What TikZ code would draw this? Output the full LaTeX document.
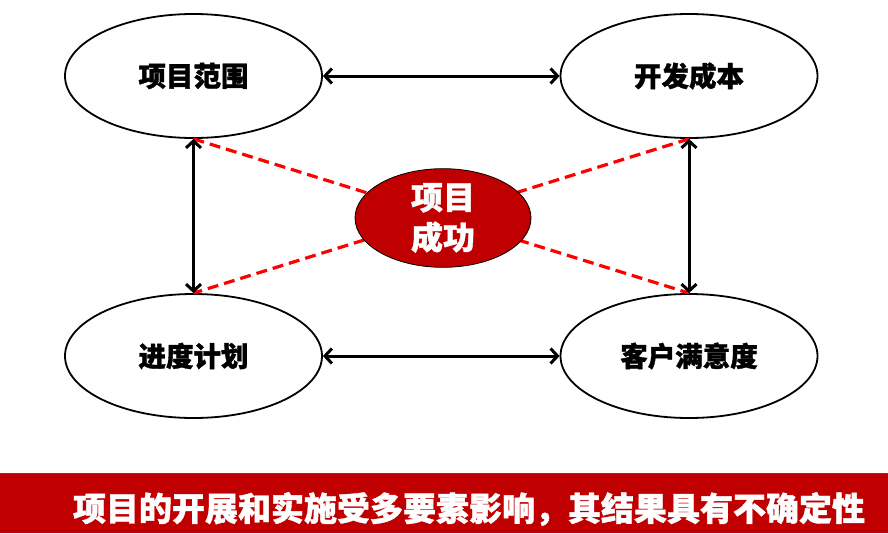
\documentclass[tikz,border=0pt]{standalone}
\usepackage{fontspec}
\newfontfamily\cjk{Noto Sans CJK SC}[BoldFeatures={FakeBold=1.2}]
\usetikzlibrary{arrows.meta,shapes.geometric}
\definecolor{barred}{HTML}{C00000}

\begin{document}
\begin{tikzpicture}[x=1pt, y=-1pt, every node/.style={font=\cjk\bfseries},
	factor/.style={ellipse, draw, line width=1.8pt, minimum width=257pt, minimum height=124pt, inner sep=0pt, font=\cjk\bfseries\fontsize{27.5}{30}\selectfont},
	link/.style={{Straight Barb[length=7pt,width=15pt]}-{Straight Barb[length=7pt,width=15pt]}, line width=3pt},
	tie/.style={red, line width=3.2pt, dash pattern=on 11pt off 6pt}]
	\useasboundingbox (0,0) rectangle (888,533);
	\node[factor] (scope) at (193.5,76) {项目范围};
	\node[factor] (cost) at (689,76) {开发成本};
	\node[factor] (plan) at (193.5,356) {进度计划};
	\node[factor] (client) at (689,356) {客户满意度};
	\draw[tie] (scope.south) -- (client.north);
	\draw[tie] (cost.south) -- (plan.north);
	\draw[link] (scope.east) -- (cost.west);
	\draw[link] (plan.east) -- (client.west);
	\draw[link] (scope.south) -- (plan.north);
	\draw[link] (cost.south) -- (client.north);
	\node[ellipse, draw, fill=barred, line width=0.8pt, minimum width=176pt, minimum height=88pt, inner sep=0pt, text=white, align=center, font=\cjk\bfseries\fontsize{32}{40}\selectfont] (success) at (443,218) {项目\\成功};
	% bottom banner
	\fill[barred] (0,474) rectangle (888,533);
	\draw[gray!60!black, line width=1pt] (0,473.5) -- (888,473.5);
	\node[text=white, font=\cjk\bfseries\fontsize{33}{36}\selectfont] (note) at (469,509) {项目的开展和实施受多要素影响，其结果具有不确定性};
\end{tikzpicture}
\end{document}
